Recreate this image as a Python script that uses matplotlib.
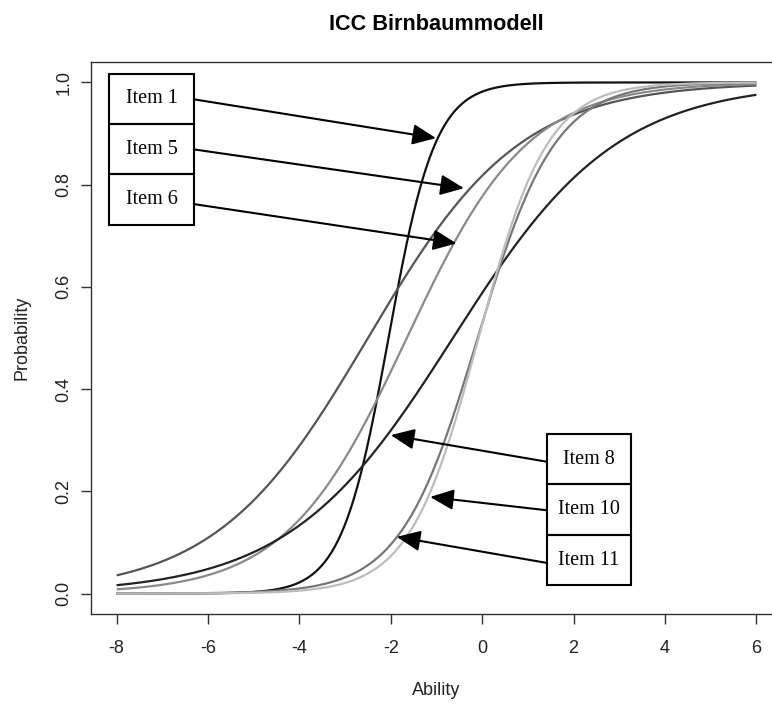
import numpy as np
import matplotlib
matplotlib.use("Agg")
import matplotlib.pyplot as plt

W, H, DPI = 772, 704, 100

# 2PL item parameters (discrimination a, difficulty b)
items  = ["Item 1", "Item 5", "Item 6", "Item 8", "Item 10", "Item 11"]
a_par  = [1.95, 0.60, 0.756, 0.557, 1.18, 1.32]
b_par  = [-2.05, -2.50, -1.65, -0.64, -0.10, -0.08]
colors = ["#111111", "#555555", "#8a8a8a", "#222222", "#777777", "#bdbdbd"]
theta  = np.linspace(-8, 6, 400)

# label boxes: (item, box x0, box x1, box y0, box y1, arrow start x, y, tip x)
box_items = ["Item 1", "Item 5", "Item 6", "Item 8", "Item 10", "Item 11"]
box_x0 = [-8.16, -8.16, -8.16, 1.41, 1.41, 1.41]
box_x1 = [-6.31, -6.31, -6.31, 3.25, 3.25, 3.25]
box_y0 = [0.919, 0.820, 0.722, 0.214, 0.114, 0.016]
box_y1 = [1.017, 0.919, 0.820, 0.312, 0.214, 0.114]
arr_x0 = [-6.31, -6.31, -6.31, 1.41, 1.41, 1.41]
arr_y0 = [0.967, 0.869, 0.762, 0.258, 0.163, 0.060]
tip_x  = [-1.01, -0.40, -0.56, -2.00, -1.14, -1.87]
tip_y  = [0.891, 0.793, 0.685, 0.310, 0.189, 0.111]


def icc(x, a, b):
    return 1.0 / (1.0 + np.exp(-a * (x - b)))


plt.rcParams["font.family"] = ["Liberation Sans", "DejaVu Sans"]
plt.rcParams["axes.unicode_minus"] = False
fig = plt.figure(figsize=(W / DPI, H / DPI), dpi=DPI, facecolor="white")
# plot region runs past the right edge of the picture (cropped in the reference)
ax = fig.add_axes([91 / W, 1 - 614 / H, (782 - 91) / W, (614 - 62) / H])

for name, a, b, c in zip(items, a_par, b_par, colors):
    ax.plot(theta, icc(theta, a, b), color=c, lw=1.6, solid_capstyle="butt")

ax.set_xlim(-8.56, 6.56)
ax.set_ylim(-0.04, 1.04)
ax.set_xticks(np.arange(-8, 7, 2))
ax.set_yticks(np.arange(0, 1.01, 0.2))
ax.set_yticklabels([f"{v:.1f}" for v in np.arange(0, 1.01, 0.2)],
                   rotation=90, va="center")
ax.tick_params(direction="out", length=7, width=1, labelsize=13,
               colors="#333333", labelcolor="#222222")
ax.tick_params(axis="x", pad=12)
ax.tick_params(axis="y", pad=6.5)
for s in ax.spines.values():
    s.set_linewidth(1)
    s.set_color("#333333")

ax.set_xlabel("Ability", fontsize=13, labelpad=18, color="#222222")
ax.set_ylabel("Probability", fontsize=13, labelpad=18, color="#222222")
ax.set_title("ICC Birnbaummodell", fontsize=15.6, fontweight="bold", pad=23)

for lab, x0, x1, y0, y1, sx, sy, tx, ty in zip(box_items, box_x0, box_x1,
                                               box_y0, box_y1, arr_x0, arr_y0,
                                               tip_x, tip_y):
    ax.add_patch(plt.Rectangle((x0, y0), x1 - x0, y1 - y0, fill=False,
                               ec="black", lw=1.5, zorder=4))
    ax.text((x0 + x1) / 2, (y0 + y1) / 2, lab, ha="center", va="center",
            fontsize=14.5, family=["Liberation Serif", "DejaVu Serif"],
            zorder=5)
    ax.annotate("", xy=(tx, ty), xytext=(sx, sy),
                arrowprops=dict(arrowstyle="-|>,head_length=0.8,head_width=0.35",
                                color="black", lw=1.5, mutation_scale=18,
                                shrinkA=0, shrinkB=0), zorder=5)

fig.savefig("out.png", dpi=DPI)
